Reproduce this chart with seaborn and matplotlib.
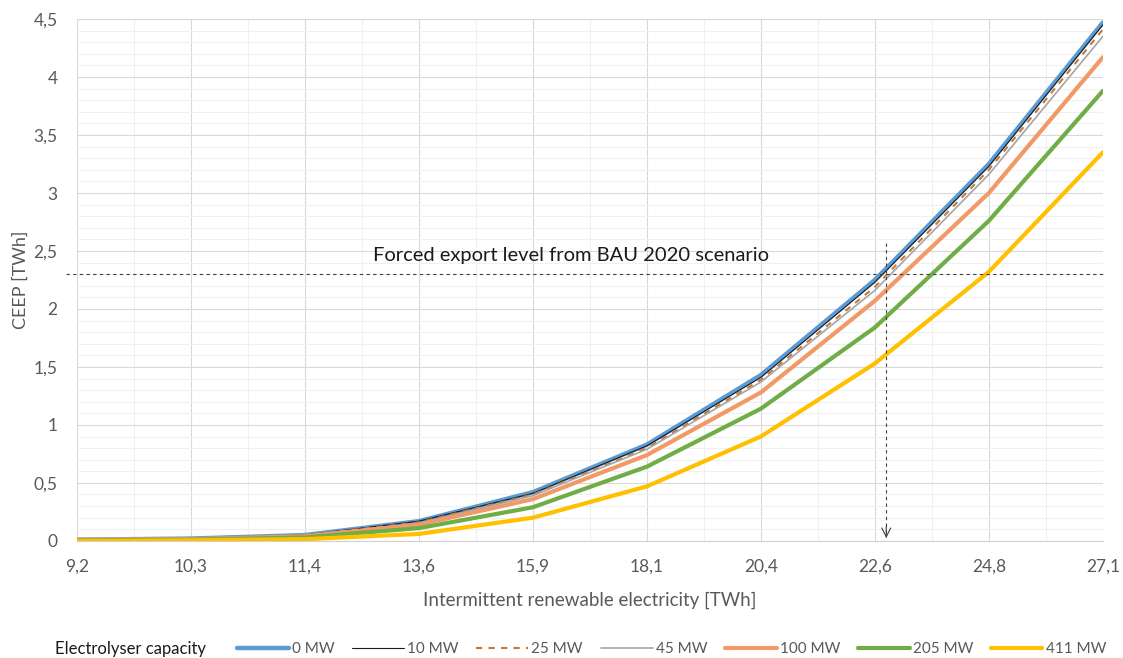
import numpy as np
import pandas as pd
import matplotlib
matplotlib.use("Agg")
import matplotlib.pyplot as plt
from matplotlib.ticker import FixedLocator, MultipleLocator, FuncFormatter
import seaborn as sns

sns.set_style("white")
plt.rcParams['font.family'] = ['Lato', 'DejaVu Sans']

# x categories (TWh intermittent renewable electricity)
x_labels = ["9,2", "10,3", "11,4", "13,6", "15,9", "18,1", "20,4", "22,6", "24,8", "27,1"]

# CEEP [TWh] per electrolyser capacity
mw0 = [0.01, 0.02, 0.05, 0.17, 0.42, 0.83, 1.43, 2.25, 3.25, 4.47]
mw10 = [0.01, 0.02, 0.05, 0.17, 0.41, 0.82, 1.41, 2.23, 3.23, 4.45]
mw25 = [0.01, 0.02, 0.05, 0.16, 0.40, 0.80, 1.39, 2.19, 3.20, 4.41]
mw45 = [0.01, 0.02, 0.04, 0.15, 0.39, 0.79, 1.37, 2.16, 3.16, 4.35]
mw100 = [0.01, 0.015, 0.04, 0.14, 0.36, 0.74, 1.28, 2.07, 3.00, 4.17]
mw205 = [0.005, 0.01, 0.03, 0.11, 0.29, 0.64, 1.14, 1.84, 2.76, 3.88]
mw411 = [0.0, 0.005, 0.015, 0.06, 0.20, 0.47, 0.90, 1.53, 2.32, 3.35]

forced_export = 2.3

series = [
    ("0 MW", mw0, "#5B9BD5", 3.2, "-"),
    ("10 MW", mw10, "#1a1a1a", 0.8, "-"),
    ("25 MW", mw25, "#C5773A", 1.5, (0, (3, 3))),
    ("45 MW", mw45, "#A5A5A5", 1.2, "-"),
    ("100 MW", mw100, "#F19A68", 3.0, "-"),
    ("205 MW", mw205, "#70AD47", 3.0, "-"),
    ("411 MW", mw411, "#FFC000", 3.0, "-"),
]

pos = np.arange(len(x_labels))

fig = plt.figure(figsize=(11.23, 6.58), dpi=100)
ax = fig.add_axes([0.0686, 0.178, 0.9134, 0.793])

for name, vals, col, lw, ls in series:
    df = pd.DataFrame({"x": pos, "y": vals})
    sns.lineplot(data=df, x="x", y="y", ax=ax, color=col, linewidth=lw,
                 linestyle=ls, label=name)

ax.set_xlim(0, len(x_labels) - 1)
ax.set_ylim(0, 4.5)

ax.set_xticks(pos)
ax.set_xticklabels(x_labels)
ax.xaxis.set_minor_locator(FixedLocator(pos[:-1] + 0.5))
ax.yaxis.set_major_locator(MultipleLocator(0.5))
ax.yaxis.set_minor_locator(MultipleLocator(0.1))
ax.yaxis.set_major_formatter(FuncFormatter(lambda v, p: ("%g" % v).replace(".", ",")))

ax.grid(which="major", color="#D9D9D9", linewidth=0.8)
ax.grid(which="minor", color="#F0F0F0", linewidth=0.8)
ax.set_axisbelow(True)
for s in ["top", "right", "left"]:
    ax.spines[s].set_visible(False)
ax.spines["bottom"].set_color("#D0D0D0")

ax.tick_params(axis="both", which="both", length=0, labelsize=12.5, colors="#595959")
ax.tick_params(axis="x", pad=13)
ax.tick_params(axis="y", pad=14)

ax.set_xlabel("Intermittent renewable electricity [TWh]", fontsize=13.5, color="#595959", labelpad=12)
ax.set_ylabel("CEEP [TWh]", fontsize=13, color="#595959", labelpad=3.5)

# forced export level
ax.plot([-0.1, len(x_labels) - 1], [forced_export, forced_export], color="#404040",
        linewidth=0.8, linestyle=(0, (3, 3)), clip_on=False)
ax.text(2.6, 2.46, "Forced export level from BAU 2020 scenario", fontsize=14.5,
        color="#1a1a1a", va="center", ha="left")

# arrow down at 22,6
ax.plot([7.1, 7.1], [2.57, 0.03], color="#404040", linewidth=0.8, linestyle=(0, (3, 3)))
ax.annotate("", xy=(7.1, 0.0), xytext=(7.1, 0.15),
            arrowprops=dict(arrowstyle="->", color="#404040", lw=0.8,
                            mutation_scale=16))

handles, labels = ax.get_legend_handles_labels()
ax.legend_.remove()
fig.legend(handles, labels, loc="center left", bbox_to_anchor=(0.199, 0.013),
           ncol=7, frameon=False, fontsize=11, handlelength=3.4,
           columnspacing=1.15, handletextpad=0.2, labelcolor="#595959")
fig.text(0.049, 0.013, "Electrolyser capacity", fontsize=12, color="#1a1a1a", va="center")

fig.savefig("out.png", dpi=100)
